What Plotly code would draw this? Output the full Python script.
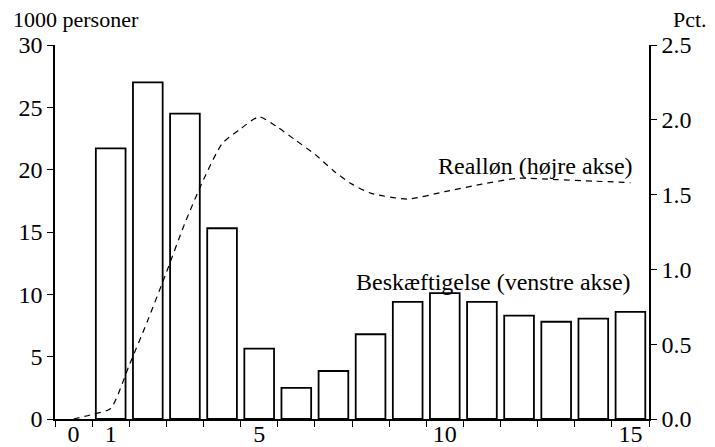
import plotly.graph_objects as go

# Data
years = list(range(1, 16))
employment = [21.7, 27.0, 24.5, 15.3, 5.65, 2.5, 3.85, 6.8, 9.4, 10.1, 9.4, 8.3, 7.8, 8.05, 8.6]

wage_x = [0, 0.5, 1, 1.5, 2, 2.5, 3, 3.5, 4, 4.5, 5, 5.5, 6, 6.5, 7, 7.5, 8, 9, 10, 11, 12, 13, 14, 15]
wage_y = [0.0, 0.03, 0.07, 0.36, 0.66, 0.98, 1.31, 1.60, 1.84, 1.94, 2.02, 1.95, 1.86, 1.77, 1.66, 1.57, 1.51, 1.47, 1.52, 1.57, 1.61, 1.60, 1.59, 1.58]

x_tickvals = [0, 1, 5, 10, 15]
x_ticktext = ["0", "1", "5", "10", "15"]
left_ticks = [0, 5, 10, 15, 20, 25, 30]
right_ticks = [0.0, 0.5, 1.0, 1.5, 2.0, 2.5]

FONT = "Liberation Serif"
TS = 24   # tick labels
AS = 24   # annotations
HS = 22   # axis headings

fig = go.Figure()
fig.add_trace(go.Bar(
    x=years, y=employment, width=0.8,
    marker=dict(color="white", line=dict(color="black", width=1.8)),
    yaxis="y", showlegend=False,
))
fig.add_trace(go.Scatter(
    x=wage_x, y=wage_y, mode="lines", yaxis="y2",
    line=dict(color="black", width=1.2, dash="6px,5px", shape="spline", smoothing=0.6),
    showlegend=False,
))

# page body has an 8px margin, so the figure is sized/offset to compensate
fig.update_layout(
    width=707, height=439,
    margin=dict(l=47, r=66, t=37, b=28),
    paper_bgcolor="white", plot_bgcolor="white",
    font=dict(family=FONT, color="black", size=TS),
    xaxis=dict(
        range=[-0.5, 15.5], tickvals=x_tickvals, ticktext=x_ticktext,
        ticks="", ticklen=0, showline=True, linecolor="black", linewidth=1.5,
        showgrid=False, zeroline=False, automargin=False,
        minor=dict(tick0=-0.5, dtick=1, ticks="outside", ticklen=6, tickcolor="black", tickwidth=1.2),
        tickfont=dict(size=24), ticklabelstandoff=-8,
    ),
    yaxis=dict(
        range=[0, 30], tickvals=left_ticks, ticks="outside", ticklen=6,
        tickcolor="black", tickwidth=1.2, showline=True, linecolor="black",
        linewidth=1.5, showgrid=False, zeroline=False, tickfont=dict(size=TS),
        automargin=False,
    ),
    yaxis2=dict(
        range=[0, 2.5], tickvals=right_ticks, tickformat=".1f", overlaying="y",
        side="right", ticks="outside", ticklen=6, tickcolor="black", tickwidth=1.2,
        showline=True, linecolor="black", linewidth=1.5, showgrid=False,
        zeroline=False, tickfont=dict(size=TS), automargin=False,
    ),
    annotations=[
        dict(text="1000 personer", xref="paper", yref="paper", x=-0.0724, y=1.032,
             xanchor="left", yanchor="bottom", showarrow=False, borderpad=0,
             font=dict(size=HS)),
        dict(text="Pct.", xref="paper", yref="paper", x=1.1, y=1.032,
             xanchor="right", yanchor="bottom", showarrow=False, borderpad=0,
             font=dict(size=HS)),
        dict(text="Realløn (højre akse)", xref="x", yref="y2", x=15.12, y=1.69,
             xanchor="right", yanchor="middle", showarrow=False, font=dict(size=AS)),
        dict(text="Beskæftigelse (venstre akse)", xref="x", yref="y", x=15.07, y=10.99,
             xanchor="right", yanchor="middle", showarrow=False, font=dict(size=AS)),
    ],
)

fig.write_html("out.html")
